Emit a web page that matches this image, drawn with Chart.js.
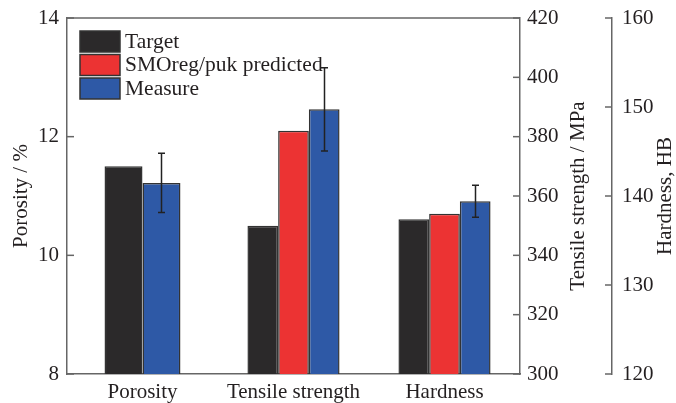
<!DOCTYPE html>
<html>
<head>
<meta charset="utf-8">
<script src="https://cdn.jsdelivr.net/npm/chart.js@4.4.1/dist/chart.umd.min.js"></script>
<style>
html,body{margin:0;padding:0;background:#fff;}
#wrap{width:676px;height:403px;}
</style>
</head>
<body>
<div id="wrap"><canvas id="c" width="676" height="403"></canvas></div>
<script>
// ---- data ----
const categories = ['Porosity', 'Tensile strength', 'Hardness'];
const seriesNames = ['Target', 'SMOreg/puk predicted', 'Measure'];
const seriesColors = ['#2b292a', '#ec3333', '#2e59a6'];
const targetValues = [11.5, 350, 137.4];
const predictedValues = [null, 382, 138.0];
const measureValues = [11.22, 389.2, 139.4];
const measureErrors = [0.5, 14, 1.8];
const axisIds = ['yPor', 'yTen', 'yHard'];
const axisTitles = ['Porosity / %', 'Tensile strength / MPa', 'Hardness, HB'];
const porosityTicks = [8, 10, 12, 14];
const tensileTicks = [300, 320, 340, 360, 380, 400, 420];
const hardnessTicks = [120, 130, 140, 150, 160];

const FONT = '"Liberation Serif", "Times New Roman", serif';
const TXT = '#231f20';
const AXC = '#666666';

const allSeries = [targetValues, predictedValues, measureValues];
const datasets = [];
categories.forEach((cat, ci) => {
  allSeries.forEach((vals, si) => {
    if (vals[ci] === null || vals[ci] === undefined) return;
    const data = categories.map((_, k) => k === ci ? vals[ci] : null);
    datasets.push({
      label: seriesNames[si],
      seriesIndex: si,
      catIndex: ci,
      data: data,
      yAxisID: axisIds[ci],
      backgroundColor: seriesColors[si],
      borderColor: '#333333',
      borderWidth: 1.5,
      barPercentage: 1.0,
      categoryPercentage: ci === 0 ? 0.503 : 0.61,
      skipNull: true,
      errors: si === 2 ? measureErrors[ci] : null
    });
  });
});

function fixWidth(w){ return function(s){ s.width = w; s.paddingTop = 0; s.paddingBottom = 0; }; }

const tickFont = {family: FONT, size: 21};

const decor = {
  id: 'decor',
  afterDatasetsDraw(chart) {
    const ctx = chart.ctx;
    const ca = chart.chartArea;
    ctx.save();
    // top frame
    ctx.strokeStyle = AXC; ctx.lineWidth = 1.5;
    ctx.beginPath(); ctx.moveTo(ca.left, ca.top); ctx.lineTo(ca.right, ca.top); ctx.stroke();
    // inward ticks
    const tickSets = [['yPor', porosityTicks], ['yTen', tensileTicks], ['yHard', hardnessTicks]];
    tickSets.forEach(([id, ticks]) => {
      const sc = chart.scales[id];
      ticks.forEach(v => {
        const y = sc.getPixelForValue(v);
        ctx.beginPath();
        if (id === 'yPor') { ctx.moveTo(sc.right, y); ctx.lineTo(sc.right + 7, y); }
        else { ctx.moveTo(sc.left, y); ctx.lineTo(sc.left - 7, y); }
        ctx.stroke();
      });
    });
    // error bars
    ctx.strokeStyle = '#222'; ctx.lineWidth = 1.5;
    chart.data.datasets.forEach((ds, di) => {
      if (ds.errors === null || ds.errors === undefined) return;
      const meta = chart.getDatasetMeta(di);
      const sc = chart.scales[ds.yAxisID];
      const el = meta.data[ds.catIndex];
      const v = ds.data[ds.catIndex];
      const yT = sc.getPixelForValue(v + ds.errors);
      const yB = sc.getPixelForValue(v - ds.errors);
      const x = Math.round(el.x) + 0.5;
      ctx.beginPath();
      ctx.moveTo(x, yT); ctx.lineTo(x, yB);
      ctx.moveTo(x - 3.5, yT); ctx.lineTo(x + 3.5, yT);
      ctx.moveTo(x - 3.5, yB); ctx.lineTo(x + 3.5, yB);
      ctx.stroke();
    });
    // legend
    ctx.font = '21.5px ' + FONT;
    ctx.textBaseline = 'middle';
    ctx.textAlign = 'left';
    seriesNames.forEach((n, i) => {
      const y0 = ca.top + 13 + i * 23.5;
      ctx.fillStyle = seriesColors[i];
      ctx.fillRect(ca.left + 13, y0, 40, 21);
      ctx.strokeStyle = '#333'; ctx.lineWidth = 1.5;
      ctx.strokeRect(ca.left + 13, y0, 40, 21);
      ctx.fillStyle = TXT;
      ctx.fillText(n, ca.left + 58, y0 + 11);
    });
    // axis titles (all read bottom-to-top)
    ctx.font = '21px ' + FONT;
    const cy = (ca.top + ca.bottom) / 2;
    const titleX = [chart.scales.yPor.left + 21, chart.scales.yTen.right - 34, chart.scales.yHard.right - 11];
    axisTitles.forEach((t, i) => {
      ctx.save();
      ctx.translate(titleX[i], cy);
      ctx.rotate(-Math.PI / 2);
      ctx.textAlign = 'center';
      ctx.textBaseline = 'middle';
      ctx.fillStyle = TXT;
      ctx.fillText(t, 0, 0);
      ctx.restore();
    });
    ctx.restore();
  }
};

new Chart(document.getElementById('c'), {
  type: 'bar',
  data: { labels: categories, datasets: datasets },
  plugins: [decor],
  options: {
    responsive: false,
    animation: false,
    layout: { padding: { top: 18, left: 0, right: 0, bottom: 0 } },
    plugins: { legend: { display: false }, tooltip: { enabled: false } },
    scales: {
      x: {
        grid: { display: false, drawTicks: false },
        border: { display: true, color: AXC, width: 1.5 },
        ticks: { font: tickFont, color: TXT, padding: 6, maxRotation: 0 },
        afterFit: function(s){ s.height = 29; s.paddingLeft = 0; s.paddingRight = 0; }
      },
      yPor: {
        position: 'left', min: 8, max: 14,
        grid: { display: false, drawTicks: false },
        border: { display: true, color: AXC, width: 1.5 },
        ticks: { font: tickFont, color: TXT, padding: 8, stepSize: 2 },
        afterBuildTicks: function(s){ s.ticks = porosityTicks.map(v => ({value: v})); },
        afterFit: fixWidth(67)
      },
      yTen: {
        position: 'right', weight: 0, min: 300, max: 420,
        grid: { display: false, drawTicks: false },
        border: { display: true, color: AXC, width: 1.5 },
        ticks: { font: tickFont, color: TXT, padding: 7, stepSize: 20 },
        afterBuildTicks: function(s){ s.ticks = tensileTicks.map(v => ({value: v})); },
        afterFit: fixWidth(92)
      },
      yHard: {
        position: 'right', weight: 1, min: 120, max: 160,
        grid: { display: false, drawTicks: false },
        border: { display: true, color: AXC, width: 1.5 },
        ticks: { font: tickFont, color: TXT, padding: 10, stepSize: 10 },
        afterBuildTicks: function(s){ s.ticks = hardnessTicks.map(v => ({value: v})); },
        afterFit: fixWidth(64)
      }
    }
  }
});
</script>
</body>
</html>
